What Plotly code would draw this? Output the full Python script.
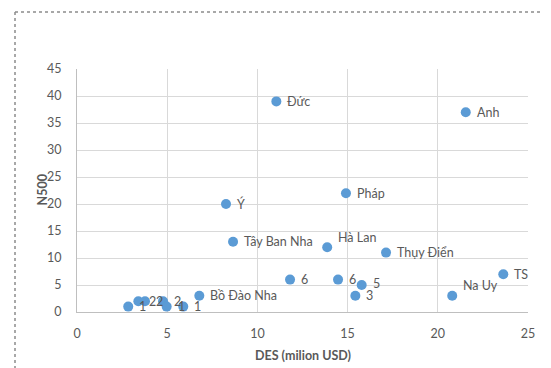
import plotly.graph_objects as go

# Data
des = [2.84, 3.40, 3.77, 4.77, 4.97, 5.89, 6.78, 11.81, 14.47, 15.78, 15.43,
       20.8, 23.63, 8.65, 13.87, 17.13, 8.26, 14.91, 11.05, 21.55]
n500 = [1, 2, 2, 2, 1, 1, 3, 6, 6, 5, 3, 3, 7, 13, 12, 11, 20, 22, 39, 37]
labels = ["1", "2", "2", "2", "1", "1", "Bồ Đào Nha", "6", "6", "5", "3",
          "Na Uy", "TS", "Tây Ban Nha", "Hà Lan", "Thụy Điển", "Ý", "Pháp", "Đức", "Anh"]
x_ticks = [0, 5, 10, 15, 20, 25]
y_ticks = [0, 5, 10, 15, 20, 25, 30, 35, 40, 45]

# label placement offsets (pixels, upward) for a few crowded points
label_lift = {"Hà Lan": 10, "Na Uy": 10, "5": 2}

FONT = "Lato, Carlito, Calibri, sans-serif"
GRAY = "#595959"

fig = go.Figure()
fig.add_trace(go.Scatter(
    x=des, y=n500, mode="markers",
    marker=dict(color="#5B9BD5", size=10),
    cliponaxis=False, showlegend=False,
))

for xv, yv, t in zip(des, n500, labels):
    fig.add_annotation(x=xv, y=yv, xref="x", yref="y", text=t, showarrow=False,
                       xanchor="left", yanchor="middle", xshift=9,
                       yshift=label_lift.get(t, 0),
                       font=dict(family=FONT, size=12.5, color=GRAY))

fig.update_layout(
    width=543, height=360,
    margin=dict(l=69, r=23, t=61, b=56),
    paper_bgcolor="white", plot_bgcolor="white",
    font=dict(family=FONT, color=GRAY, size=12),
    xaxis=dict(range=[0, 25], tickvals=x_ticks, showgrid=True, gridcolor="#d9d9d9",
               zeroline=False, showline=True, linecolor="#bfbfbf", mirror=False,
               ticks="", ticklabelstandoff=10, automargin=False,
               tickfont=dict(size=12.5, color=GRAY)),
    yaxis=dict(range=[0, 45], tickvals=y_ticks, showgrid=True, gridcolor="#d9d9d9",
               zeroline=False, showline=True, linecolor="#bfbfbf",
               ticks="", ticklabelstandoff=12, automargin=False,
               tickfont=dict(size=12.5, color=GRAY)),
)

# axis titles
fig.add_annotation(text="<b>DES (milion USD)</b>", xref="paper", yref="paper",
                   x=0.5, y=(304 - 347) / 243, xanchor="center", yanchor="middle",
                   showarrow=False, font=dict(size=12.5, color=GRAY, family=FONT))
fig.add_annotation(text="<b>N500</b>", xref="paper", yref="paper",
                   x=(34 - 69) / 451, y=0.5, xanchor="center", yanchor="middle",
                   textangle=-90, showarrow=False, font=dict(size=12.5, color=GRAY, family=FONT))

# dotted outer frame (top and left edges visible)
x_left = (7 - 69) / 451
y_top = (304 - 4) / 243
fig.add_shape(type="line", xref="paper", yref="paper", x0=x_left, y0=y_top, x1=1.06, y1=y_top,
              line=dict(color="#8c8c8c", width=1.5, dash="dot"))
fig.add_shape(type="line", xref="paper", yref="paper", x0=x_left, y0=y_top, x1=x_left, y1=-0.3,
              line=dict(color="#8c8c8c", width=1.5, dash="dot"))

fig.write_html("out.html")
